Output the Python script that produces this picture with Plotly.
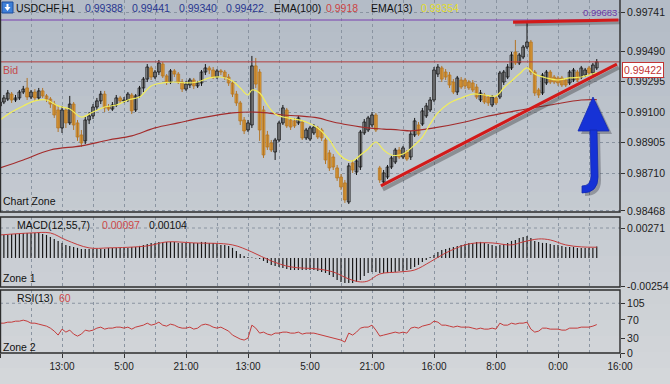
import plotly.graph_objects as go

# ---------------- data ----------------
bar_idx = list(range(155))

open_ = [0.99140,0.99165,0.99184,0.99216,0.99178,0.99191,0.99229,0.99255,0.99197,0.99229,
0.99191,0.99236,0.99204,0.99184,0.99152,0.99114,0.98999,0.99114,0.99031,0.99152,
0.99031,0.98954,0.98916,0.99050,0.99076,0.99133,0.99172,0.99216,0.99133,0.99120,
0.99146,0.99191,0.99172,0.99178,0.99210,0.99114,0.99204,0.99255,0.99312,0.99383,
0.99325,0.99357,0.99408,0.99332,0.99293,0.99364,0.99344,0.99293,0.99248,0.99274,
0.99306,0.99268,0.99287,0.99357,0.99383,0.99370,0.99325,0.99364,0.99357,0.99325,
0.99287,0.99216,0.99159,0.99050,0.98986,0.99018,0.99396,0.99357,0.99114,0.98954,
0.98903,0.98845,0.98922,0.99031,0.99114,0.99050,0.99044,0.99031,0.99037,0.98935,
0.98928,0.98967,0.98999,0.98986,0.98922,0.98839,0.98813,0.98743,0.98685,0.98647,
0.98525,0.98775,0.98717,0.98749,0.98967,0.98986,0.99018,0.99082,0.98743,0.98653,
0.98685,0.98749,0.98781,0.98858,0.98813,0.98845,0.98813,0.98954,0.99018,0.99024,
0.99076,0.99114,0.99178,0.99344,0.99383,0.99357,0.99338,0.99293,0.99229,0.99306,
0.99306,0.99293,0.99287,0.99261,0.99178,0.99210,0.99197,0.99146,0.99191,0.99197,
0.99293,0.99325,0.99383,0.99485,0.99415,0.99453,0.99517,0.99549,0.99357,0.99242,
0.99223,0.99287,0.99357,0.99325,0.99319,0.99319,0.99306,0.99287,0.99306,0.99357,
0.99325,0.99338,0.99383,0.99351,0.99383]

close = [0.99165,0.99191,0.99223,0.99178,0.99191,0.99229,0.99248,0.99197,0.99229,0.99191,
0.99236,0.99204,0.99184,0.99152,0.99082,0.98999,0.99114,0.99031,0.99152,0.99018,
0.98941,0.98903,0.99050,0.99076,0.99133,0.99172,0.99216,0.99127,0.99120,0.99146,
0.99191,0.99172,0.99178,0.99216,0.99108,0.99204,0.99255,0.99312,0.99389,0.99325,
0.99357,0.99415,0.99332,0.99293,0.99364,0.99344,0.99293,0.99248,0.99280,0.99306,
0.99268,0.99287,0.99357,0.99383,0.99370,0.99325,0.99364,0.99357,0.99325,0.99287,
0.99216,0.99159,0.99044,0.98980,0.99031,0.99396,0.99280,0.98986,0.98826,0.98877,
0.98858,0.98922,0.99031,0.99127,0.99012,0.99005,0.99012,0.99063,0.98935,0.98986,
0.98999,0.99005,0.98941,0.98935,0.98794,0.98743,0.98749,0.98679,0.98621,0.98538,
0.98756,0.98730,0.98788,0.98973,0.99037,0.99063,0.99082,0.98986,0.98666,0.98711,
0.98749,0.98807,0.98858,0.98813,0.98871,0.98800,0.98960,0.99044,0.98960,0.99108,
0.99140,0.99178,0.99370,0.99389,0.99312,0.99325,0.99274,0.99229,0.99319,0.99261,
0.99268,0.99255,0.99242,0.99197,0.99223,0.99165,0.99159,0.99197,0.99159,0.99351,
0.99357,0.99389,0.99466,0.99415,0.99466,0.99517,0.99549,0.99357,0.99223,0.99210,
0.99338,0.99357,0.99293,0.99293,0.99287,0.99274,0.99274,0.99357,0.99370,0.99306,
0.99383,0.99370,0.99351,0.99402,0.99422]

high = [0.99184,0.99210,0.99242,0.99229,0.99210,0.99242,0.99268,0.99319,0.99242,0.99248,
0.99255,0.99255,0.99216,0.99197,0.99172,0.99140,0.99140,0.99127,0.99204,0.99165,
0.99050,0.98986,0.99069,0.99101,0.99152,0.99191,0.99236,0.99236,0.99152,0.99165,
0.99210,0.99204,0.99197,0.99229,0.99223,0.99216,0.99268,0.99325,0.99408,0.99396,
0.99370,0.99434,0.99421,0.99344,0.99376,0.99376,0.99357,0.99312,0.99300,0.99319,
0.99319,0.99300,0.99370,0.99408,0.99396,0.99389,0.99376,0.99376,0.99370,0.99344,
0.99300,0.99236,0.99172,0.99069,0.99050,0.99460,0.99447,0.99376,0.99140,0.98980,
0.98922,0.98935,0.99044,0.99146,0.99127,0.99063,0.99063,0.99076,0.99050,0.98999,
0.99012,0.99024,0.99012,0.98999,0.98935,0.98858,0.98832,0.98762,0.98704,0.98666,
0.98775,0.98794,0.98807,0.98986,0.99056,0.99076,0.99101,0.99095,0.98756,0.98730,
0.98762,0.98820,0.98871,0.98877,0.98884,0.98858,0.98980,0.99063,0.99037,0.99127,
0.99159,0.99197,0.99389,0.99408,0.99396,0.99376,0.99357,0.99312,0.99332,0.99325,
0.99319,0.99306,0.99306,0.99280,0.99242,0.99223,0.99210,0.99210,0.99204,0.99364,
0.99370,0.99408,0.99485,0.99562,0.99479,0.99530,0.99677,0.99562,0.99370,0.99255,
0.99351,0.99370,0.99370,0.99338,0.99332,0.99332,0.99319,0.99370,0.99383,0.99370,
0.99396,0.99383,0.99396,0.99415,0.99440]

low = [0.99120,0.99152,0.99172,0.99159,0.99165,0.99178,0.99216,0.99178,0.99184,0.99172,
0.99178,0.99191,0.99165,0.99127,0.99063,0.98973,0.98967,0.98999,0.99018,0.98986,
0.98916,0.98877,0.98896,0.99024,0.99056,0.99114,0.99152,0.99101,0.99108,0.99108,
0.99133,0.99152,0.99159,0.99165,0.99088,0.99101,0.99191,0.99229,0.99293,0.99306,
0.99312,0.99338,0.99319,0.99274,0.99280,0.99325,0.99280,0.99229,0.99236,0.99255,
0.99248,0.99255,0.99268,0.99338,0.99344,0.99312,0.99312,0.99338,0.99306,0.99268,
0.99197,0.99140,0.99018,0.98960,0.98973,0.98999,0.99255,0.98916,0.98807,0.98858,
0.98845,0.98794,0.98909,0.99018,0.98999,0.98986,0.98999,0.99018,0.98922,0.98922,
0.98916,0.98954,0.98928,0.98916,0.98768,0.98724,0.98730,0.98660,0.98602,0.98519,
0.98512,0.98711,0.98698,0.98730,0.98954,0.98973,0.99005,0.98973,0.98647,0.98640,
0.98672,0.98736,0.98768,0.98800,0.98800,0.98788,0.98794,0.98941,0.98948,0.99012,
0.99063,0.99101,0.99165,0.99325,0.99293,0.99306,0.99255,0.99216,0.99210,0.99248,
0.99248,0.99242,0.99229,0.99184,0.99165,0.99152,0.99140,0.99133,0.99146,0.99184,
0.99274,0.99312,0.99370,0.99402,0.99402,0.99440,0.99504,0.99338,0.99204,0.99191,
0.99210,0.99274,0.99280,0.99280,0.99268,0.99261,0.99261,0.99274,0.99293,0.99293,
0.99312,0.99325,0.99338,0.99338,0.99370]

ema13_idx = [0,3,6,9,12,15,18,21,24,27,30,33,36,39,42,45,48,51,54,57,60,62,64,65,67,69,71,73,76,79,
             82,85,87,89,91,93,95,97,99,101,104,107,109,111,113,116,119,122,125,128,130,132,134,136,138,
             141,144,147,150,152,154]
ema13_val = [0.99050,0.99101,0.99140,0.99172,0.99178,0.99140,0.99120,0.99069,0.99101,0.99133,
             0.99146,0.99178,0.99197,0.99268,0.99287,0.99293,0.99287,0.99293,0.99319,0.99325,
             0.99300,0.99255,0.99210,0.99242,0.99223,0.99146,0.99088,0.99069,0.99056,0.99037,
             0.98999,0.98922,0.98845,0.98800,0.98788,0.98826,0.98864,0.98909,0.98858,0.98826,
             0.98832,0.98890,0.98941,0.99024,0.99095,0.99159,0.99191,0.99216,0.99210,0.99204,
             0.99255,0.99300,0.99344,0.99383,0.99344,0.99319,0.99306,0.99319,0.99325,0.99338,
             0.99354]

ema100_idx = [0,6,13,21,28,34,40,46,52,60,65,69,73,77,82,86,90,95,99,103,106,112,120,125,133,142,150,154]
ema100_val = [0.98743,0.98794,0.98858,0.98884,0.98922,0.98948,0.98999,0.99031,0.99063,0.99095,
              0.99101,0.99095,0.99082,0.99076,0.99063,0.99037,0.99018,0.98999,0.98992,0.98986,
              0.98980,0.98999,0.99037,0.99069,0.99108,0.99146,0.99178,0.99180]

macd_hist = [0.00199,0.00208,0.00208,0.00217,0.00217,0.00226,0.00226,0.00226,0.00226,0.00226,
0.00226,0.00217,0.00208,0.00190,0.00172,0.00154,0.00136,0.00118,0.00109,0.00100,
0.00091,0.00081,0.00081,0.00081,0.00081,0.00081,0.00081,0.00081,0.00091,0.00091,
0.00091,0.00091,0.00091,0.00091,0.00100,0.00100,0.00109,0.00118,0.00127,0.00136,
0.00136,0.00145,0.00145,0.00145,0.00145,0.00145,0.00136,0.00136,0.00136,0.00136,
0.00136,0.00136,0.00145,0.00145,0.00136,0.00136,0.00127,0.00118,0.00118,0.00109,
0.00091,0.00063,0.00036,0.00018,0.00009,0.00005,-0.00005,-0.00009,-0.00027,-0.00045,
-0.00063,-0.00072,-0.00081,-0.00091,-0.00100,-0.00109,-0.00109,-0.00109,-0.00109,-0.00109,
-0.00109,-0.00109,-0.00118,-0.00127,-0.00136,-0.00154,-0.00172,-0.00199,-0.00217,-0.00226,
-0.00226,-0.00226,-0.00217,-0.00199,-0.00163,-0.00136,-0.00127,-0.00127,-0.00136,-0.00136,
-0.00136,-0.00127,-0.00127,-0.00118,-0.00118,-0.00109,-0.00100,-0.00081,-0.00063,-0.00036,
-0.00018,0.00009,0.00027,0.00054,0.00072,0.00081,0.00091,0.00100,0.00109,0.00118,
0.00127,0.00136,0.00136,0.00145,0.00145,0.00136,0.00127,0.00118,0.00109,0.00118,
0.00127,0.00136,0.00154,0.00163,0.00181,0.00190,0.00199,0.00181,0.00154,0.00145,
0.00136,0.00136,0.00127,0.00118,0.00118,0.00109,0.00100,0.00100,0.00100,0.00091,
0.00091,0.00091,0.00091,0.00091,0.00104]

macd_sig_idx = [0,8,13,17,23,28,38,43,50,60,65,70,75,82,86,90,93,95,98,103,107,111,115,120,123,127,
                132,135,139,142,146,150,154]
macd_sig_val = [0.00208,0.00226,0.00226,0.00163,0.00091,0.00091,0.00109,0.00145,0.00136,0.00118,
                0.00054,-0.00027,-0.00081,-0.00100,-0.00127,-0.00190,-0.00217,-0.00208,-0.00145,-0.00127,
                -0.00109,-0.00036,0.00045,0.00118,0.00136,0.00136,0.00118,0.00145,0.00172,0.00163,
                0.00118,0.00100,0.00097]

rsi = [63.0,63.0,65.1,65.1,67.2,67.2,69.3,67.2,63.0,63.0,
60.9,58.8,56.7,52.5,46.2,37.8,50.4,44.1,48.3,39.9,
35.7,39.9,48.3,46.2,48.3,52.5,54.6,50.4,52.5,52.5,
54.6,54.6,52.5,54.6,50.4,54.6,56.7,58.8,63.0,58.8,
60.9,65.1,58.8,56.7,60.9,58.8,54.6,52.5,52.5,54.6,
50.4,52.5,58.8,60.9,58.8,54.6,52.5,54.6,50.4,46.2,
37.8,33.6,29.4,27.3,31.5,58.8,52.5,42.0,44.1,39.9,
37.8,42.0,42.0,44.1,44.1,42.0,42.0,44.1,39.9,42.0,
42.0,42.0,39.9,37.8,35.7,33.6,31.5,29.4,27.3,23.1,
42.0,37.8,44.1,52.5,54.6,54.6,58.8,48.3,35.7,37.8,
39.9,42.0,44.1,42.0,44.1,42.0,52.5,54.6,52.5,56.7,
58.8,60.9,67.2,65.1,58.8,58.8,56.7,54.6,56.7,54.6,
54.6,54.6,52.5,50.4,52.5,50.4,50.4,52.5,50.4,63.0,
58.8,58.8,63.0,60.9,63.0,63.0,65.1,50.4,44.1,46.2,
52.5,52.5,50.4,50.4,50.4,48.3,48.3,52.5,52.5,52.5,
54.6,54.6,54.6,56.7,60.0]

time_tick_idx = [0,16,32,48,64,80,96,112,128,144,160]
time_tick_text = ["21:00","13:00","5:00","21:00","13:00","5:00","21:00","16:00","8:00","0:00","16:00"]
grid_idx = [0,8,16,24,32,40,48,56,64,72,80,88,96,104,112,120,128,136,144,152,160]
price_ticks = [0.99741,0.99490,0.99295,0.99100,0.98905,0.98710,0.98468]
price_tick_text = ["0.99741","0.99490","0.99295","0.99100","0.98905","0.98710","0.98468"]
macd_ticks = [0.00271,-0.00254]
macd_tick_text = ["0.00271","-0.00254"]
rsi_ticks = [0,30,70,105]

bid_price = 0.99422
high_line_price = 0.99690
trend_up_idx = [98.3,159.2]
trend_up_price = [0.98628,0.99408]
top_line_idx = [132.4,159.6]
top_line_price = [0.99677,0.99690]

# ---------------- geometry / style ----------------
W, H = 670, 384
PW, PH = 620, 353          # plot area (l=0, t=0)
def px_x(px): return px / PW
def px_y(py): return 1 - py / PH

MAIN_DOM = [px_y(212), 1.0]
MACD_DOM = [px_y(287), px_y(217)]
RSI_DOM = [0.0, px_y(290)]

FONT_UI = "Liberation Sans, Arial, sans-serif"
FONT_AX = "Liberation Sans, Arial, sans-serif"
GRID = "#8a94a1"
BULL_LINE, BULL_FILL = "#141414", "#c9ccd0"
BEAR_LINE, BEAR_FILL = "#b37526", "#e9a83c"

fig = go.Figure()

def wicks(is_up):
    xs, ys = [], []
    for i in bar_idx:
        if (close[i] >= open_[i]) == is_up:
            xs += [i, i, None]
            ys += [low[i], high[i], None]
    return xs, ys

for is_up, col in [(True, BULL_LINE), (False, BEAR_LINE)]:
    xs, ys = wicks(is_up)
    fig.add_trace(go.Scatter(x=xs, y=ys, mode="lines", line=dict(color=col, width=1),
                             hoverinfo="skip", xaxis="x", yaxis="y"))

base = [min(o, c) for o, c in zip(open_, close)]
height = [max(abs(c - o), 0.00002) for o, c in zip(open_, close)]
fills = [BULL_FILL if c >= o else BEAR_FILL for o, c in zip(open_, close)]
lines = [BULL_LINE if c >= o else BEAR_LINE for o, c in zip(open_, close)]
fig.add_trace(go.Bar(x=bar_idx, y=height, base=base, width=0.72,
                     marker=dict(color=fills, line=dict(color=lines, width=0.8)),
                     xaxis="x", yaxis="y"))

fig.add_trace(go.Scatter(x=ema100_idx, y=ema100_val, mode="lines", line=dict(color="#a32c2c", width=1.2, shape="spline"),
                         xaxis="x", yaxis="y"))
fig.add_trace(go.Scatter(x=ema13_idx, y=ema13_val, mode="lines", line=dict(color="#f2ee5a", width=1.2, shape="spline"),
                         xaxis="x", yaxis="y"))

fig.add_trace(go.Bar(x=bar_idx, y=macd_hist, width=0.3, marker=dict(color="#161616", line=dict(width=0)),
                     xaxis="x2", yaxis="y2"))
fig.add_trace(go.Scatter(x=macd_sig_idx, y=macd_sig_val, mode="lines", line=dict(color="#c43c3c", width=1, shape="spline"),
                         xaxis="x2", yaxis="y2"))
fig.add_trace(go.Scatter(x=bar_idx, y=rsi, mode="lines", line=dict(color="#c43c3c", width=1),
                         xaxis="x3", yaxis="y3"))

# ---------------- shapes ----------------
shapes = []
top_rgb, bot_rgb = (180, 188, 199), (212, 215, 218)
steps = 24
for k in range(steps):
    t = k / (steps - 1)
    r, g, b = [int(a + (bb - a) * t) for a, bb in zip(top_rgb, bot_rgb)]
    y0 = k * H / steps
    y1 = (k + 1) * H / steps + 1
    shapes.append(dict(type="rect", xref="paper", yref="paper", layer="below",
                       x0=-0.01, x1=px_x(W + 5), y0=px_y(y1), y1=px_y(y0),
                       fillcolor=f"rgb({r},{g},{b})", line=dict(width=0)))

shapes.append(dict(type="line", xref="paper", yref="y2", x0=0, x1=1, y0=macd_ticks[0], y1=macd_ticks[0],
                   line=dict(color=GRID, width=1, dash="3px,3px"), layer="below"))
shapes.append(dict(type="line", xref="paper", yref="y3", x0=0, x1=1, y0=105, y1=105,
                   line=dict(color=GRID, width=1, dash="3px,3px"), layer="below"))

shapes.append(dict(type="line", xref="paper", yref="y", x0=0, x1=1, y0=bid_price, y1=bid_price,
                   line=dict(color="#b23c3c", width=1)))
shapes.append(dict(type="line", xref="paper", yref="y", x0=0, x1=1, y0=high_line_price, y1=high_line_price,
                   line=dict(color="#7a40b0", width=1)))

def seg(xv, yv, color, width, dx=0.0, dy=0.0):
    return dict(type="line", xref="x", yref="y", x0=xv[0] + dx, x1=xv[1] + dx,
                y0=yv[0] + dy, y1=yv[1] + dy, line=dict(color=color, width=width))
shapes.append(seg(trend_up_idx, trend_up_price, "rgba(40,40,40,0.35)", 4, 0.5, -0.00022))
shapes.append(seg(trend_up_idx, trend_up_price, "#d21a1a", 3.2))
shapes.append(seg(top_line_idx, top_line_price, "rgba(40,40,40,0.3)", 3, 0.5, -0.00018))
shapes.append(seg(top_line_idx, top_line_price, "#d21a1a", 3.2))

def ppath(pts, close_path=True):
    s = ""
    for cmd, coords in pts:
        vals = " ".join(f"{px_x(coords[j]):.5f},{px_y(coords[j+1]):.5f}" for j in range(0, len(coords), 2))
        s += f"{cmd}{vals} "
    return s + ("Z" if close_path else "")

head = [("M", (578, 131)), ("L", (593, 97)), ("L", (609, 131))]
shaft = [("M", (590, 130)), ("L", (597, 130)), ("L", (598, 177)),
         ("Q", (598, 193, 582, 193)), ("L", (582, 186)), ("Q", (591, 186, 591, 176))]
def shifted(pts, dx, dy):
    return [(c, tuple(v + (dx if j % 2 == 0 else dy) for j, v in enumerate(co))) for c, co in pts]
for pts in (head, shaft):
    shapes.append(dict(type="path", xref="paper", yref="paper", path=ppath(shifted(pts, 3, 3)),
                       fillcolor="rgba(30,30,40,0.3)", line=dict(width=0)))
for pts in (head, shaft):
    shapes.append(dict(type="path", xref="paper", yref="paper", path=ppath(pts),
                       fillcolor="#1632d6", line=dict(color="#1228b0", width=0.8)))

shapes.append(dict(type="rect", xref="paper", yref="paper", x0=px_x(2), x1=px_x(13), y0=px_y(13), y1=px_y(2),
                   fillcolor="#3d7fd8", line=dict(color="#1e4f9e", width=1)))
shapes.append(dict(type="path", xref="paper", yref="paper",
                   path=ppath([("M", (6.5, 4)), ("L", (8.5, 4)), ("L", (8.5, 7)), ("L", (10.5, 7)),
                               ("L", (7.5, 11)), ("L", (4.5, 7)), ("L", (6.5, 7))]),
                   fillcolor="white", line=dict(width=0)))

for (y0p, y1p) in [(212, -2), (287, 217), (353, 290)]:
    shapes.append(dict(type="rect", xref="paper", yref="paper", x0=px_x(0.5), x1=1,
                       y0=px_y(y0p), y1=px_y(y1p), line=dict(color="#2d2d2d", width=1.4),
                       fillcolor="rgba(0,0,0,0)"))

# ---------------- annotations ----------------
ann = []
def A(text, px, py, color="#111111", size=10.5, font=FONT_UI, xanchor="left", **kw):
    d = dict(text=text, xref="paper", yref="paper", x=px_x(px), y=px_y(py), xanchor=xanchor,
             yanchor="middle", showarrow=False, font=dict(family=font, size=size, color=color))
    d.update(kw)
    ann.append(d)

A("USDCHF,H1", 14, 8)
for txt, px in [("0.99388", 83), ("0.99441", 130), ("0.99340", 177), ("0.99422", 224)]:
    A(txt, px, 8, color="#28368f")
A("EMA(100)", 272, 8)
A("0.9918", 324, 8, color="#cc4444")
A("EMA(13)", 369, 8)
A("0.99354", 419, 8, color="#e3dc2c")
A("0.99683", 581, 13, color="#6b3aa6", size=9.5)
A("Bid", 1, 70, color="#c44a4a")
A("Chart Zone", 1, 201)
A("MACD(12,55,7)", 15, 225)
A("0.00097", 100, 225, color="#cc4848")
A("0.00104", 147, 225)
A("Zone 1", 1, 278)
A("RSI(13)", 15, 298)
A("60", 57, 298, color="#cc4848")
A("Zone 2", 1, 347)
ann.append(dict(text="0.99422", xref="paper", yref="y", x=px_x(622), y=bid_price, xanchor="left",
                yanchor="top", showarrow=False, bgcolor="white", bordercolor="#c23434", borderwidth=1,
                borderpad=1, font=dict(family=FONT_AX, size=10.5, color="#c23434")))

# ---------------- layout ----------------
xcommon = dict(range=[0, 160], showline=False, zeroline=False, showgrid=True, gridcolor=GRID,
               griddash="3px,3px", gridwidth=1)
ycommon = dict(side="right", showline=False, zeroline=False, ticks="outside", ticklen=4,
               tickcolor="#333333",
               tickfont=dict(family=FONT_AX, size=10.5, color="#1c1c1c"))

fig.update_layout(
    width=W, height=H,
    margin=dict(l=0, r=W - PW, t=0, b=H - PH),
    paper_bgcolor="#c4c9cf", plot_bgcolor="rgba(0,0,0,0)",
    showlegend=False, barmode="overlay", hovermode=False,
    xaxis=dict(xcommon, domain=[0, 1], anchor="y", tickmode="array", tickvals=grid_idx,
               showticklabels=False, ticks=""),
    xaxis2=dict(xcommon, domain=[0, 1], anchor="y2", matches="x", tickmode="array", tickvals=grid_idx,
                showticklabels=False, ticks=""),
    xaxis3=dict(xcommon, domain=[0, 1], anchor="y3", matches="x", tickmode="array",
                tickvals=time_tick_idx, ticktext=time_tick_text, ticks="outside", ticklen=4,
                tickcolor="#333333",
                tickfont=dict(family=FONT_AX, size=10, color="#1c1c1c"),
                minor=dict(tickmode="array", tickvals=[v for v in grid_idx if v not in time_tick_idx],
                           showgrid=True, gridcolor=GRID, griddash="3px,3px", ticks="")),
    yaxis=dict(ycommon, domain=MAIN_DOM, anchor="x", range=[0.98461, 0.99818], tickmode="array",
               tickvals=price_ticks, ticktext=price_tick_text, showgrid=True, gridcolor=GRID,
               griddash="3px,3px"),
    yaxis2=dict(ycommon, domain=MACD_DOM, anchor="x2", range=[-0.00263, 0.003706], tickmode="array",
                tickvals=macd_ticks, ticktext=macd_tick_text, showgrid=False),
    yaxis3=dict(ycommon, domain=RSI_DOM, anchor="x3", range=[0, 133], tickmode="array",
                tickvals=rsi_ticks, ticktext=[str(v) for v in rsi_ticks], showgrid=False),
    shapes=shapes, annotations=ann,
)

# no toolbar; remove the browser's default 8px page margin so the figure sits at the window's corner
fig.write_html("out.html", config={"displayModeBar": False, "staticPlot": True},
               post_script="document.body.style.margin='0px';document.body.style.overflow='hidden';")
